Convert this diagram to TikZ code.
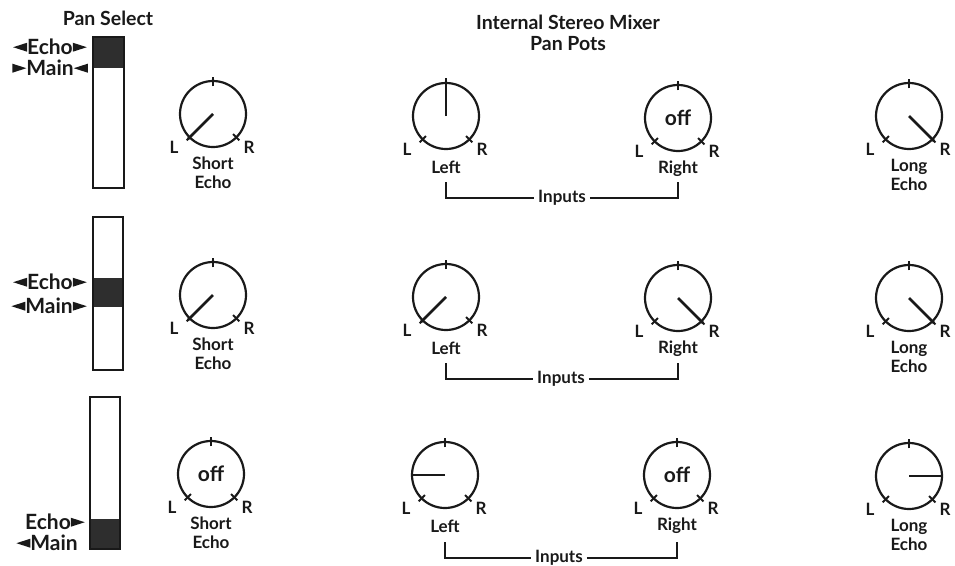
\documentclass[tikz,border=0pt]{standalone}
\usepackage{fontspec}
\setmainfont{Lato}
\usetikzlibrary{calc}
\newcommand\tril{\tikz[x=1pt,y=1pt,baseline=0pt]\fill[black!90] (0,7.5) -- (14,3) -- (14,12) -- cycle;}
\newcommand\trir{\tikz[x=1pt,y=1pt,baseline=0pt]\fill[black!90] (14,7.5) -- (0,3) -- (0,12) -- cycle;}
\tikzset{
  base/.style={font=\fontsize{17}{19}\selectfont\bfseries, inner sep=1pt, text=black!90},
  slab/.style={font=\fontsize{21}{22}\selectfont\bfseries, inner sep=0pt, text=black!90},
  title/.style={font=\fontsize{19.5}{21}\selectfont\bfseries, inner sep=1pt, text=black!90},
  offtxt/.style={font=\fontsize{21}{22}\selectfont\bfseries, inner sep=0pt, text=black!90},
  knob/.style={circle, draw=black!90, line width=2.2pt, minimum size=66pt, inner sep=0pt, outer sep=0pt},
  ticks/.style={line width=1.9pt, draw=black!90},
  ptr/.style={line width=2.8pt, draw=black!90},
  bar/.style={draw=black!90, line width=2.2pt, inner sep=0pt, outer sep=0pt, rectangle},
  dark/.style={fill=black!82},
  brk/.style={line width=2.2pt, draw=black!90},
}
\newcommand\knobbase[5]{%
  \node[knob] (#1) at (#2,#3) {};
  \draw[ticks] ($(#1.center)!0.84!(#1.90)$) -- ($(#1.center)!1.12!(#1.90)$);
  \draw[ticks] ($(#1.center)!0.86!(#1.225)$) -- ($(#1.center)!1.13!(#1.225)$);
  \draw[ticks] ($(#1.center)!0.86!(#1.315)$) -- ($(#1.center)!1.13!(#1.315)$);
  \node[base] (#1L) at ($(#1.center)+(-39,33)$) {L};
  \node[base] (#1R) at ($(#1.center)+(36,33)$) {R};
  \node[base, align=center] (#1t) at ($(#1.center)+(0,#5)$) {#4};
}
\newcommand\knobptr[3]{% name, angle, factor
  \draw[ptr] (#1.center) -- ($(#1.center)!#3!(#1.#2)$);
}
\newcommand\knoboff[1]{%
  \node[offtxt] (#1o) at (#1.center) {off};
}
\begin{document}
\begin{tikzpicture}[x=1pt,y=-1pt]
\useasboundingbox (0,0) rectangle (955,565);

% titles
\node[title] (ttlpan) at (108,18) {Pan Select};
\node[title, align=center] (ttlmix) at (568,33) {Internal Stereo Mixer\\Pan Pots};

% sliders
\fill[dark] (93,37) rectangle (124,68);
\node[bar, minimum width=31pt, minimum height=151pt] (s1) at (108.5,112.5) {};
\node[slab, anchor=east] (s1e) at (87,47) {\tril Echo\trir};
\node[slab, anchor=east] (s1m) at (88,68) {\trir Main\tril};

\fill[dark] (93,278) rectangle (123,307);
\node[bar, minimum width=30pt, minimum height=153pt] (s2) at (108,293.5) {};
\node[slab, anchor=east] (s2e) at (87,282) {\tril Echo\trir};
\node[slab, anchor=east] (s2m) at (87,306) {\tril Main\trir};

\fill[dark] (90,519) rectangle (120,549);
\node[bar, minimum width=30pt, minimum height=152pt] (s3) at (105,473) {};
\node[slab, anchor=east] (s3e) at (85,522) {Echo\trir};
\node[slab, anchor=east] (s3m) at (78,543) {\tril Main};

% row 1
\knobbase{a1}{213}{114}{Short\\Echo}{59}
\knobptr{a1}{225}{1.08}
\knobbase{b1}{446}{116}{Left}{51}
\knobptr{b1}{90}{1.15}
\knobbase{c1}{678}{118}{Right}{51}
\knoboff{c1}
\knobbase{d1}{909}{116}{Long\\Echo}{59}
\knobptr{d1}{315}{1.08}

% row 2
\knobbase{a2}{213}{295}{Short\\Echo}{59}
\knobptr{a2}{225}{1.08}
\knobbase{b2}{446}{297}{Left}{51}
\knobptr{b2}{225}{1.08}
\knobbase{c2}{678}{298}{Right}{51}
\knobptr{c2}{315}{1.08}
\knobbase{d2}{909}{298}{Long\\Echo}{59}
\knobptr{d2}{315}{1.08}

% row 3
\knobbase{a3}{211}{474}{Short\\Echo}{59}
\knoboff{a3}
\knobbase{b3}{445}{475}{Left}{51}
\knobptr{b3}{180}{1.0}
\knobbase{c3}{677}{475}{Right}{51}
\knoboff{c3}
\knobbase{d3}{909}{476}{Long\\Echo}{59}
\knobptr{d3}{0}{1.0}

% inputs brackets
\node[base, anchor=base, inner sep=4pt] (in1) at (562,202) {Inputs};
\coordinate (in1a) at ($(b1.center)+(0,66)$);
\coordinate (in1b) at ($(c1.center)+(0,64)$);
\draw[brk] (in1a) |- ($(in1.base west)+(0,-4)$);
\draw[brk] ($(in1.base east)+(0,-4)$) -| (in1b);

\node[base, anchor=base, inner sep=4pt] (in2) at (561,383) {Inputs};
\coordinate (in2a) at ($(b2.center)+(0,66)$);
\coordinate (in2b) at ($(c2.center)+(0,65)$);
\draw[brk] (in2a) |- ($(in2.base west)+(0,-4)$);
\draw[brk] ($(in2.base east)+(0,-4)$) -| (in2b);

\node[base, anchor=base, inner sep=4pt] (in3) at (559,562) {Inputs};
\coordinate (in3a) at ($(b3.center)+(0,67)$);
\coordinate (in3b) at ($(c3.center)+(0,67)$);
\draw[brk] (in3a) |- ($(in3.base west)+(0,-4)$);
\draw[brk] ($(in3.base east)+(0,-4)$) -| (in3b);
\end{tikzpicture}
\end{document}
